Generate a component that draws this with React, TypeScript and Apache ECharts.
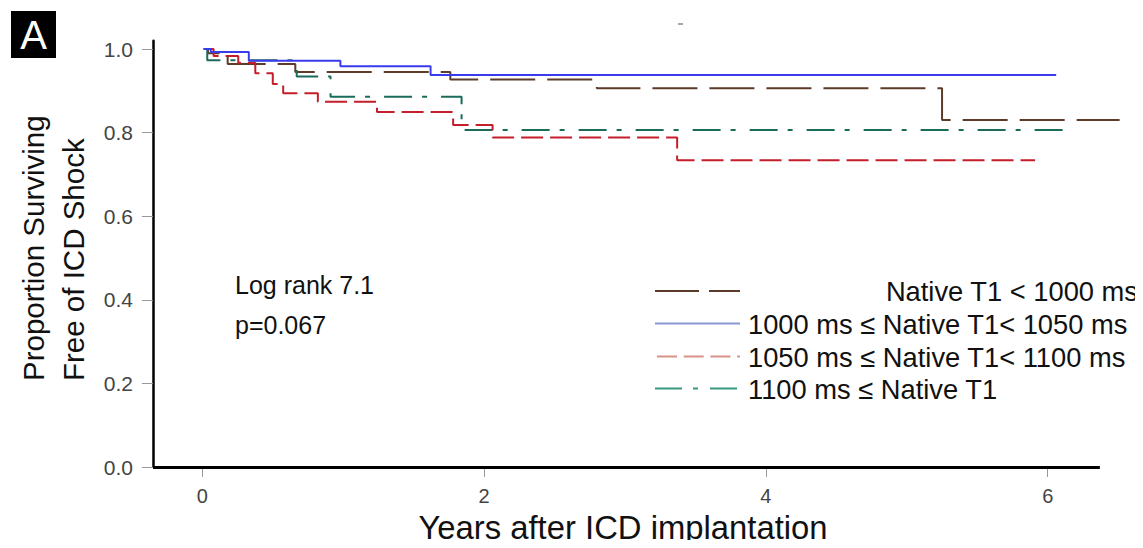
import React, { useEffect, useRef } from "react";
import * as echarts from "echarts";

const brownX = [0.01, 0.04, 0.18, 0.66, 1.76, 2.8, 5.25, 6.51];
const brownY = [1.0, 0.99, 0.964, 0.945, 0.927, 0.906, 0.83, 0.83];
const blueX = [0.01, 0.06, 0.33, 0.98, 1.62, 6.06];
const blueY = [1.0, 0.993, 0.972, 0.959, 0.938, 0.938];
const redX = [0.01, 0.08, 0.255, 0.376, 0.5, 0.574, 0.82, 1.24, 1.78, 2.06, 3.37, 5.91];
const redY = [1.0, 0.983, 0.967, 0.942, 0.916, 0.894, 0.874, 0.849, 0.818, 0.788, 0.734, 0.734];
const tealX = [0.01, 0.035, 0.67, 0.91, 1.84, 6.17];
const tealY = [1.0, 0.973, 0.934, 0.886, 0.806, 0.806];

const xTicks = [0, 2, 4, 6];
const yTicks = [0, 0.2, 0.4, 0.6, 0.8, 1.0];
const xAxisLineRange = [-0.35, 6.37];

const seriesNames = [
  "Native T1 < 1000 ms",
  "1000 ms ≤ Native T1< 1050 ms",
  "1050 ms ≤ Native T1< 1100 ms",
  "1100 ms ≤ Native T1",
];
const xTitle = "Years after ICD implantation";

const FONT = "'Liberation Sans', Arial, sans-serif";

function pairs(xs: number[], ys: number[]) {
  return xs.map((x, i) => [x, ys[i]]);
}

export default function App() {
  const ref = useRef<HTMLDivElement>(null);
  useEffect(() => {
    if (!ref.current) return;
    const chart = echarts.init(ref.current, undefined, { renderer: "svg" });
    const mk = (
      name: string,
      data: number[][],
      color: string,
      type: any,
      width = 2,
      z = 2,
      dashOffset = 0
    ) => ({
      name,
      type: "line",
      step: "end",
      data,
      symbol: "none",
      clip: false,
      z,
      lineStyle: { color, width, type, dashOffset },
    });
    chart.setOption({
      animation: false,
      backgroundColor: "#fff",
      grid: { left: 153, right: 22, top: 40.64, bottom: 81, outerBoundsMode: "none", containLabel: false },
      xAxis: {
        type: "value",
        min: -0.35,
        max: 6.52,
        splitLine: { show: false },
        axisLine: { show: false, onZero: false },
        axisTick: {
          show: true,
          customValues: xTicks,
          length: 10,
          lineStyle: { color: "#999", width: 1 },
        },
        axisLabel: {
          customValues: xTicks,
          fontSize: 20,
          color: "#444",
          fontFamily: FONT,
          margin: 19,
        },
      },
      yAxis: {
        type: "value",
        min: 0,
        max: 1.02,
        splitLine: { show: false },
        axisLine: { show: true, onZero: false, lineStyle: { color: "#000", width: 2.5 } },
        axisTick: {
          show: true,
          customValues: yTicks,
          length: 11,
          lineStyle: { color: "#999", width: 1 },
        },
        axisLabel: {
          customValues: yTicks,
          fontSize: 21,
          color: "#444",
          fontFamily: FONT,
          margin: 20,
          formatter: (v: number) => v.toFixed(1),
        },
      },
      series: [
        mk(seriesNames[0], pairs(brownX, brownY), "#5c3b28", [45, 12], 2, 2, 25),
        mk(seriesNames[3], pairs(tealX, tealY), "#1b6b5a", [28, 10, 5, 14], 2, 3),
        mk(seriesNames[2], pairs(redX, redY), "#c41e2a", [22, 7], 2, 4),
        {
          ...mk(seriesNames[1], pairs(blueX, blueY), "#3b3bee", "solid", 2, 5),
          markLine: {
            silent: true,
            symbol: ["none", "none"],
            label: { show: false },
            lineStyle: { color: "#000", width: 3, type: "solid" },
            data: [[{ coord: [xAxisLineRange[0], 0] }, { coord: [xAxisLineRange[1], 0] }]],
          },
        },
      ],
      graphic: [
        { type: "rect", shape: { x: 11, y: 11, width: 45, height: 47 }, style: { fill: "#000" } },
        {
          type: "text",
          x: 33.5,
          y: 35,
          style: { text: "A", fill: "#fff", fontSize: 40, fontFamily: FONT, align: "center", verticalAlign: "middle" },
        },
        {
          type: "text",
          x: 623,
          y: 527,
          scaleX: 0.965,
          style: { text: xTitle, fill: "#111", fontSize: 34, fontFamily: FONT, align: "center", verticalAlign: "middle" },
        },
        {
          type: "text",
          x: 33,
          y: 381,
          rotation: Math.PI / 2,
          style: { text: "Proportion Surviving", fill: "#111", fontSize: 29.5, fontFamily: FONT, align: "left", verticalAlign: "middle" },
        },
        {
          type: "text",
          x: 73,
          y: 381,
          rotation: Math.PI / 2,
          style: { text: "Free of ICD Shock", fill: "#111", fontSize: 29.5, fontFamily: FONT, align: "left", verticalAlign: "middle" },
        },
        {
          type: "text",
          x: 235,
          y: 285,
          style: { text: "Log rank 7.1", fill: "#111", fontSize: 25, fontFamily: FONT, align: "left", verticalAlign: "middle" },
        },
        {
          type: "text",
          x: 235,
          y: 325,
          style: { text: "p=0.067", fill: "#111", fontSize: 25, fontFamily: FONT, align: "left", verticalAlign: "middle" },
        },
        // legend
        { type: "line", shape: { x1: 655, y1: 291, x2: 740, y2: 291 }, style: { stroke: "#5a3a28", lineWidth: 2, lineDash: [44, 10] } },
        { type: "line", shape: { x1: 655, y1: 323.5, x2: 740, y2: 323.5 }, style: { stroke: "#8a98d0", lineWidth: 2 } },
        { type: "line", shape: { x1: 657, y1: 356.5, x2: 740, y2: 356.5 }, style: { stroke: "#d8928a", lineWidth: 2, lineDash: [20, 6.7] } },
        { type: "line", shape: { x1: 655, y1: 388.5, x2: 740, y2: 388.5 }, style: { stroke: "#3a9a80", lineWidth: 2, lineDash: [27, 11, 5, 12] } },
        {
          type: "text",
          x: 1138,
          y: 291,
          style: { text: seriesNames[0], fill: "#111", fontSize: 27.3, fontFamily: FONT, align: "right", verticalAlign: "middle" },
        },
        {
          type: "text",
          x: 748,
          y: 324,
          style: { text: seriesNames[1], fill: "#111", fontSize: 27.3, fontFamily: FONT, align: "left", verticalAlign: "middle" },
        },
        {
          type: "text",
          x: 748,
          y: 357,
          style: { text: seriesNames[2], fill: "#111", fontSize: 27.3, fontFamily: FONT, align: "left", verticalAlign: "middle" },
        },
        {
          type: "text",
          x: 748,
          y: 389,
          style: { text: seriesNames[3], fill: "#111", fontSize: 27.3, fontFamily: FONT, align: "left", verticalAlign: "middle" },
        },
        { type: "line", shape: { x1: 678, y1: 24, x2: 683, y2: 24 }, style: { stroke: "#888", lineWidth: 1.5 } },
      ],
    });
    return () => chart.dispose();
  }, []);
  return <div ref={ref} style={{ width: 1143, height: 548, margin: -8 }} />;
}
